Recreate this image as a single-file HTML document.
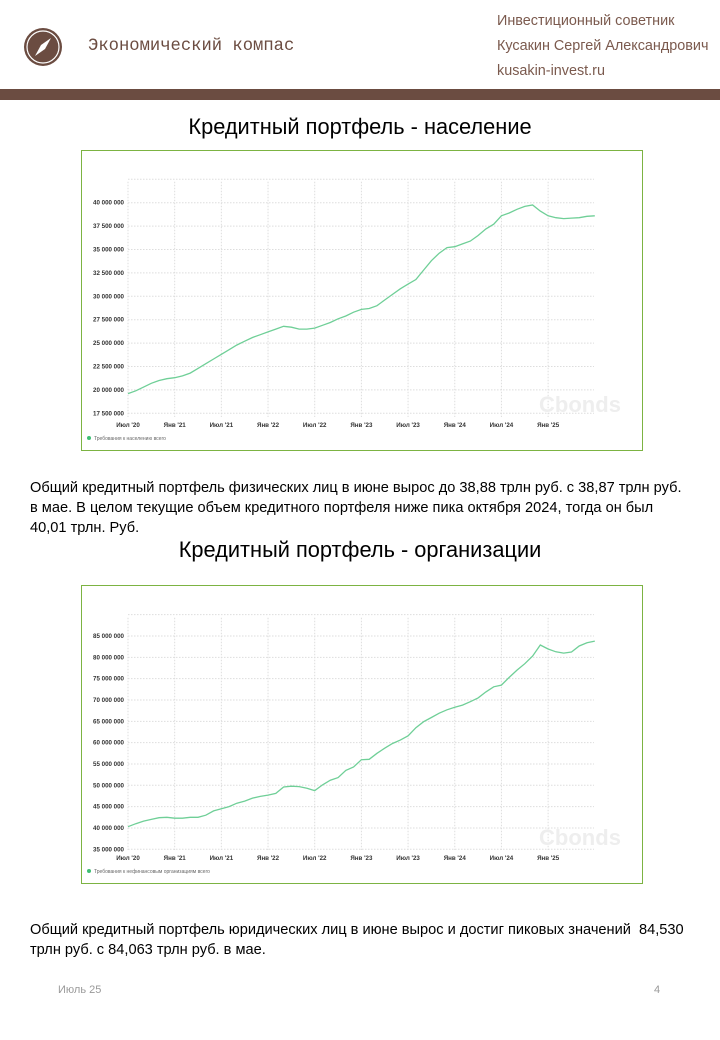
<!DOCTYPE html>
<html><head><meta charset="utf-8"><style>
body{margin:0;width:720px;height:1040px;background:#fff;position:relative;font-family:"Liberation Sans",sans-serif;overflow:hidden}
.a{position:absolute;white-space:nowrap}
.hr{color:#7b5a4e;font-size:14.4px;left:497px}
.p{left:30px;font-size:14.6px;color:#000;line-height:20px}
.t{left:0;width:720px;text-align:center;font-size:21.8px;color:#000}
svg text{font-family:"Liberation Sans",sans-serif}
</style></head><body>
<svg class="a" style="left:22px;top:26px" width="42" height="42"><circle cx="21" cy="21" r="19" fill="#6b4c41"/><circle cx="21" cy="21" r="16" fill="none" stroke="#fff" stroke-width="1.2"/><path d="M29 12 L23 23 L13 30 L19 19 Z" fill="#fff"/></svg>
<div class="a" style="left:88px;top:37px;font-family:'Liberation Mono',monospace;font-size:17.2px;color:#6b4c41">Экономический компас</div>
<div class="a hr" style="top:13px">Инвестиционный советник</div>
<div class="a hr" style="top:38px">Кусакин Сергей Александрович</div>
<div class="a hr" style="top:63px">kusakin-invest.ru</div>
<div class="a" style="left:0;top:89px;width:720px;height:11px;background:#6b4c41"></div>
<div class="a t" style="top:114px">Кредитный портфель - население</div>
<svg class="a" id="c1" style="left:0;top:0" width="720" height="1040"></svg>
<div class="a p" style="top:478px">Общий кредитный портфель физических лиц в июне вырос до 38,88 трлн руб. с 38,87 трлн руб.<br>в мае. В целом текущие объем кредитного портфеля ниже пика октября 2024, тогда он был<br>40,01 трлн. Руб.</div>
<div class="a t" style="top:537px">Кредитный портфель - организации</div>
<div class="a p" style="top:920px">Общий кредитный портфель юридических лиц в июне вырос и достиг пиковых значений&nbsp; 84,530<br>трлн руб. с 84,063 трлн руб. в мае.</div>
<div class="a" style="left:58px;top:984px;font-size:11px;color:#999">Июль 25</div>
<div class="a" style="left:654px;top:984px;font-size:11px;color:#999">4</div>
<script>
const xLabels=["Июл '20","Янв '21","Июл '21","Янв '22","Июл '22","Янв '23","Июл '23","Янв '24","Июл '24","Янв '25"];
const hhTicks=[17.5,20,22.5,25,27.5,30,32.5,35,37.5,40];
const hhValues=[19.6,19.9,20.3,20.7,21.0,21.2,21.3,21.5,21.8,22.3,22.8,23.3,23.8,24.3,24.8,25.2,25.6,25.9,26.2,26.5,26.8,26.7,26.5,26.5,26.6,26.9,27.2,27.6,27.9,28.3,28.6,28.7,29.0,29.6,30.2,30.8,31.3,31.8,32.8,33.8,34.6,35.2,35.3,35.6,35.9,36.5,37.2,37.7,38.6,38.9,39.3,39.6,39.75,39.1,38.6,38.4,38.3,38.35,38.4,38.55,38.6];
const coTicks=[35,40,45,50,55,60,65,70,75,80,85];
const coValues=[40.3,41.0,41.6,42.0,42.4,42.5,42.3,42.3,42.5,42.5,43.0,44.0,44.5,45.0,45.8,46.3,47.0,47.4,47.7,48.1,49.6,49.8,49.7,49.3,48.75,50.1,51.2,51.8,53.5,54.3,56.0,56.1,57.5,58.7,59.8,60.6,61.6,63.5,64.9,65.9,66.9,67.7,68.3,68.8,69.6,70.5,71.9,73.1,73.5,75.3,77.0,78.5,80.3,82.9,81.95,81.3,81.0,81.25,82.65,83.4,83.8];
const legend1="Требования к населению всего";
const legend2="Требования к нефинансовым организациям всего";
const NS="http://www.w3.org/2000/svg";
function mk(svg,tag,at,txt){const e=document.createElementNS(NS,tag);for(const k in at)e.setAttribute(k,at[k]);if(txt!=null)e.textContent=txt;svg.appendChild(e);return e;}
function fmt(v){return Math.round(v*1e6).toString().replace(/\B(?=(\d{3})+(?!\d))/g," ");}
function chart(svg,top,h,ticks,vals,y0,yStep,pxStep,topGrid,legend,pref){
  const box=mk(svg,'rect',{x:81.5,y:top+0.5,width:561,height:h,fill:'none',stroke:'#7cb342','stroke-width':1});
  
  const X0=128,mPx=7.78,axisY=top+h-33;
  const x=i=>X0+i*mPx;
  const y=v=>y0-(v-ticks[0])/yStep*pxStep;
  for(let i=0;i<=10;i++){const xx=X0+i*6*mPx;if(xx>594)break;
    const g=mk(svg,'line',{x1:xx,x2:xx,y1:topGrid,y2:axisY,stroke:'#ddd','stroke-dasharray':'1.5,1.5'});
    }
  const all=[...ticks,ticks[ticks.length-1]+yStep];
  all.forEach((t,i)=>{const yy=y(t);
    const g=mk(svg,'line',{x1:X0,x2:594,y1:yy,y2:yy,stroke:'#ddd','stroke-dasharray':'1.5,1.5'});
    
    if(i<ticks.length){const tl=mk(svg,'text',{x:124,y:yy+2,'text-anchor':'end','font-size':6.2,'font-weight':'bold',fill:'#333'},fmt(t));
    }});
  xLabels.forEach((l,i)=>{const tl=mk(svg,'text',{x:x(i*6),y:axisY+10,'text-anchor':'middle','font-size':6.2,'font-weight':'bold',fill:'#333'},l);
    });
  const wm=mk(svg,'text',{x:580,y:axisY-5,'text-anchor':'middle','font-size':22,'font-weight':'bold',fill:'#eee'},'Cbonds');
  
  const ln=mk(svg,'path',{d:vals.map((v,i)=>(i?'L':'M')+x(i).toFixed(1)+' '+y(v).toFixed(1)).join(''),fill:'none',stroke:'#6fcf97','stroke-width':1.3});
  
  const d=mk(svg,'circle',{cx:89,cy:axisY+21,r:2,fill:'#3fbf74'});
  
  const lt=mk(svg,'text',{x:94,y:axisY+23,'font-size':5,fill:'#666'},legend);
  
}
const s=document.getElementById('c1');
chart(s,150,300,hhTicks,hhValues,413.3,2.5,23.4,181.7,legend1,'households');
chart(s,585,298,coTicks,coValues,849.3,5,21.33,617.7,legend2,'companies');
</script>
</body></html>
